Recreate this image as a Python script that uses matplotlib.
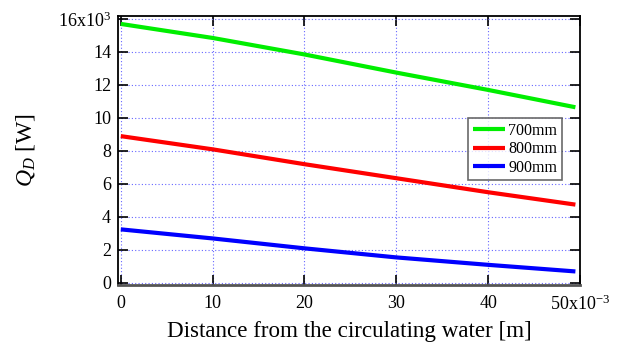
import matplotlib
matplotlib.use("Agg")
import matplotlib.pyplot as plt
import numpy as np

x = [0, 10, 20, 30, 40, 49.5]
q700 = [15.7, 14.85, 13.85, 12.75, 11.7, 10.65]
q800 = [8.9, 8.1, 7.2, 6.35, 5.5, 4.75]
q900 = [3.25, 2.7, 2.1, 1.55, 1.1, 0.7]
labels = ["700mm", "800mm", "900mm"]
colors = ["#00ee00", "#ff0000", "#0000ff"]
xticks = [0, 10, 20, 30, 40, 50]
xticklabels = ['0', '10', '20', '30', '40', r'50x10$^{-3}$']
yticks = [0, 2, 4, 6, 8, 10, 12, 14, 16]
yticklabels = ['0', '2', '4', '6', '8', '10', '12', '14', r'16x10$^{3}$']

plt.rcParams['font.family'] = ['Liberation Serif', 'DejaVu Serif']
plt.rcParams['mathtext.fontset'] = 'custom'
plt.rcParams['mathtext.rm'] = 'Liberation Serif'
plt.rcParams['mathtext.it'] = 'Liberation Serif:italic'

fig = plt.figure(figsize=(6.18, 3.45), dpi=100)
ax = fig.add_axes([0.191, 0.174, 0.7475, 0.7796])

for ys, lab, c in zip([q700, q800, q900], labels, colors):
    ax.plot(x, ys, color=c, lw=3, label=lab, solid_capstyle='butt')

ax.set_xlim(-0.3, 50)
ax.set_ylim(-0.12, 16.18)
ax.set_xticks(xticks)
ax.set_yticks(yticks)
ax.set_xticklabels(xticklabels)
ax.set_yticklabels(yticklabels)
ax.grid(True, color='#6666ff', linestyle=(0, (1, 2)), linewidth=0.8)
ax.tick_params(direction='in', length=7, width=1.2, labelsize=13, top=True, right=True, pad=5)
ax.tick_params(axis='x', pad=7)
for s in ax.spines.values():
    s.set_linewidth(1.3)
ax.spines['bottom'].set_color('#555555')
ax.spines['bottom'].set_linewidth(2)

ax.set_xlabel('Distance from the circulating water [m]', fontsize=16.6, labelpad=5)
ax.set_ylabel(r'$Q_D$ [W]', fontsize=17, labelpad=15)

leg = ax.legend(loc='upper right', bbox_to_anchor=(0.961, 0.621), borderaxespad=0,
                fontsize=11.5, frameon=True, fancybox=False, edgecolor='#444444',
                handlelength=2.0, handletextpad=0.2, borderpad=0.3, labelspacing=0.15)
leg.get_frame().set_linewidth(1.2)

fig.savefig('out.png', dpi=100)
